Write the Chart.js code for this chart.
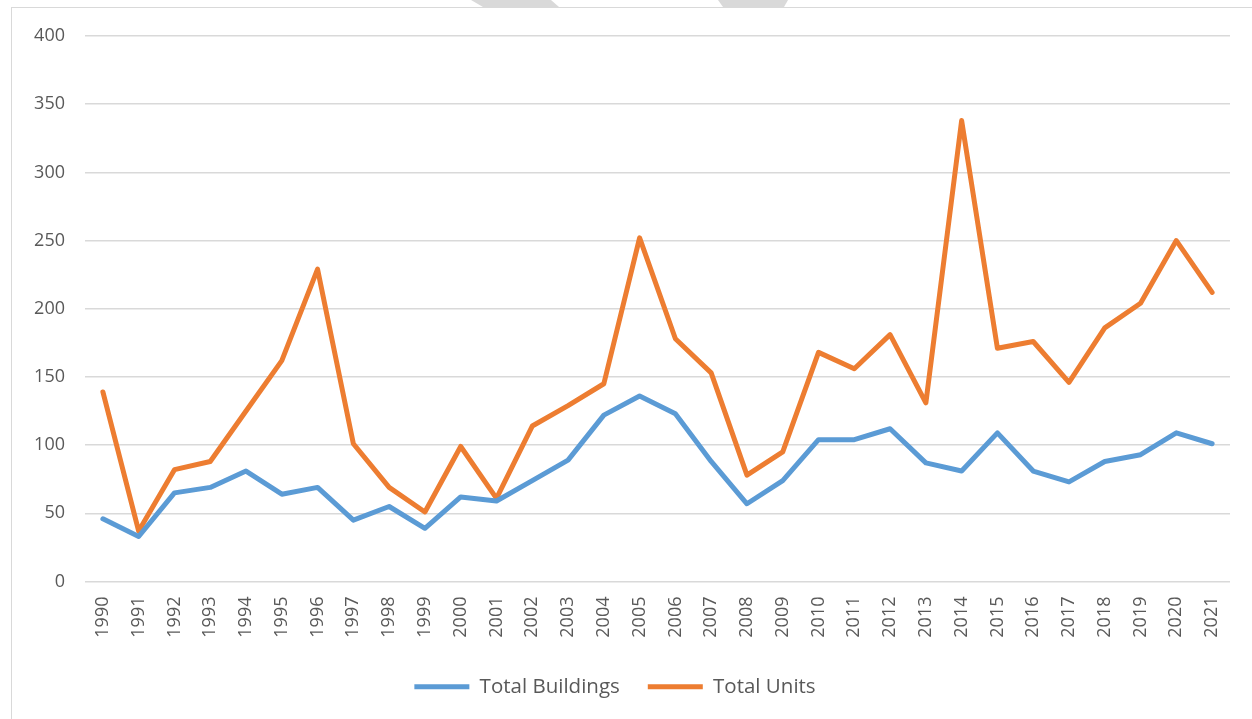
<!DOCTYPE html>
<html>
<head>
<meta charset="utf-8">
<script src="https://cdn.jsdelivr.net/npm/chart.js@4"></script>
<style>
  html, body { margin: 0; padding: 0; background: #fff; overflow: hidden; }
  #wrap { position: relative; width: 1252px; height: 719px; overflow: hidden; }
  #frame { position: absolute; left: 11px; top: 7px; width: 1250px; height: 720px;
           border-left: 1px solid #d9d9d9; border-top: 1px solid #d9d9d9; }
  canvas { position: absolute; left: 0; top: 0; }
</style>
</head>
<body>
<div id="wrap">
  <div id="frame"></div>
  <canvas id="units" width="1252" height="719"></canvas>
</div>
<script>
// years on the x axis
var years = ["1990", "1991", "1992", "1993", "1994", "1995", "1996", "1997", "1998", "1999",
    "2000", "2001", "2002", "2003", "2004", "2005", "2006", "2007", "2008", "2009",
    "2010", "2011", "2012", "2013", "2014", "2015", "2016", "2017", "2018", "2019",
    "2020", "2021"];

var totalBuildings = [46, 33, 65, 69, 81, 64, 69, 45, 55, 39,
    62, 59, 74, 89, 122, 136, 123, 88, 57, 74,
    104, 104, 112, 87, 81, 109, 81, 73, 88, 93,
    109, 101];

var totalUnits = [139, 37, 82, 88, 125, 162, 229, 101, 69, 51,
    99, 61, 114, 129, 145, 252, 178, 153, 78, 95,
    168, 156, 181, 131, 338, 171, 176, 146, 186, 204,
    250, 212];

var yTicks = [0, 50, 100, 150, 200, 250, 300, 350, 400];

var textColor = "#595959";
var gridColor = "#d9d9d9";
var fontFamily = "'Open Sans', 'Liberation Sans', sans-serif";

// the grey bits of the cut-off watermark at the very top
var watermark = {
    id: "watermark",
    beforeDraw: function (chart) {
        var ctx = chart.ctx;
        ctx.save();
        ctx.fillStyle = "#d9d9d9";
        ctx.beginPath();
        ctx.moveTo(471, 0); ctx.lineTo(551, 0); ctx.lineTo(559, 7); ctx.lineTo(483, 7);
        ctx.closePath();
        ctx.fill();
        ctx.beginPath();
        ctx.moveTo(718, 0); ctx.lineTo(788, 0); ctx.lineTo(784, 7); ctx.lineTo(723, 7);
        ctx.closePath();
        ctx.fill();
        ctx.restore();
    }
};

var ctx = document.getElementById("units").getContext("2d");

var chart = new Chart(ctx, {
    type: "line",
    data: {
        labels: years,
        datasets: [
            {
                label: "Total Buildings",
                data: totalBuildings,
                borderColor: "#5b9bd5",
                backgroundColor: "#5b9bd5",
                borderWidth: 5,
                borderCapStyle: "round",
                borderJoinStyle: "round",
                pointRadius: 0,
                tension: 0
            },
            {
                label: "Total Units",
                data: totalUnits,
                borderColor: "#ed7d31",
                backgroundColor: "#ed7d31",
                borderWidth: 5,
                borderCapStyle: "round",
                borderJoinStyle: "round",
                pointRadius: 0,
                tension: 0
            }
        ]
    },
    options: {
        responsive: false,
        animation: false,
        layout: {
            padding: { top: 36, left: 0, right: 22, bottom: 12 }
        },
        plugins: {
            legend: {
                position: "bottom",
                labels: {
                    usePointStyle: true,
                    pointStyle: "line",
                    pointStyleWidth: 55,
                    padding: 28,
                    color: textColor,
                    font: { family: fontFamily, size: 20.5 }
                }
            },
            tooltip: { enabled: false }
        },
        scales: {
            x: {
                offset: true,
                grid: { display: false, drawTicks: false },
                border: { display: false },
                ticks: {
                    autoSkip: false,
                    minRotation: 90,
                    maxRotation: 90,
                    padding: 15,
                    color: textColor,
                    font: { family: fontFamily, size: 18 }
                },
                afterFit: function (scale) { scale.height = 67; }
            },
            y: {
                min: 0,
                max: 400,
                afterBuildTicks: function (scale) {
                    scale.ticks = yTicks.map(function (v) { return { value: v }; });
                },
                grid: { color: gridColor, lineWidth: 1.5, drawTicks: false },
                border: { display: false },
                ticks: {
                    padding: 20,
                    color: textColor,
                    font: { family: fontFamily, size: 18 }
                },
                afterFit: function (scale) { scale.width = 85; }
            }
        }
    },
    plugins: [watermark]
});
</script>
</body>
</html>
